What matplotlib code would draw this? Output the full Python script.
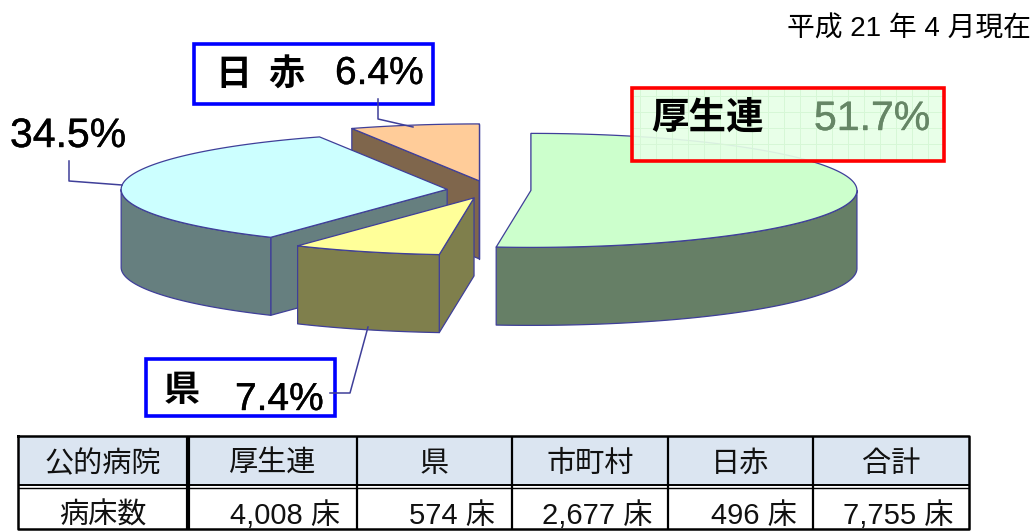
import matplotlib
matplotlib.use("Agg")
import matplotlib.pyplot as plt
import matplotlib.patheffects as pe
import numpy as np
from matplotlib.patches import Polygon, Rectangle

plt.rcParams["font.family"] = ["Liberation Sans", "Noto Sans CJK JP"]

# clockwise from 12 o'clock
slice_names = ["厚生連", "県", "市町村", "日赤"]
shares = [51.7, 7.4, 34.5, 6.4]
explode = [41, 48, 43, 53]
top_colors = ["#CCFFCC", "#FFFF99", "#CCFFFF", "#FFCC99"]
side_colors = ["#667F66", "#7F7F4C", "#667F7F", "#7F664C"]
draw_order = [3, 2, 1, 0]

table_header = ["公的病院", "厚生連", "県", "市町村", "日赤", "合計"]
table_row = ["病床数", "4,008 床", "574 床", "2,677 床", "496 床", "7,755 床"]
date_text = "平成 21 年 4 月現在"

# pie geometry in image pixels
CX, CY = 490, 190
RX, RY = 326, 57
DEPTH = 78
EDGE = "#3F3F99"

col_edges = [18, 188, 357, 512, 668, 813, 969]
row_right = [340, 495, 652, 797, 953]


def rim(cx, cy, a0, a1):
    theta = np.radians(np.linspace(a0, a1, 200))
    return np.column_stack([cx + RX * np.sin(theta), cy - RY * np.cos(theta)])


def faces_viewer(normal_deg):
    return np.cos(np.radians(normal_deg)) < 1e-6


def draw_slice(ax, a0, a1, boom, top, side):
    mid = np.radians((a0 + a1) / 2)
    cx = CX + boom * np.sin(mid)
    cy = CY - boom * np.cos(mid) * RY / RX
    apex = np.array([[cx, cy]])
    arc = rim(cx, cy, a0, a1)
    down = np.array([0, DEPTH])
    style = dict(edgecolor=EDGE, linewidth=0.9, joinstyle="round")

    # only the cut faces turned to the viewer, then outer wall, then the top
    if faces_viewer(a0 - 90):
        face = np.vstack([apex, arc[:1], arc[:1] + down, apex + down])
        ax.add_patch(Polygon(face, facecolor=side, **style))
    if faces_viewer(a1 + 90):
        face = np.vstack([apex, arc[-1:], arc[-1:] + down, apex + down])
        ax.add_patch(Polygon(face, facecolor=side, **style))
    lo, hi = max(a0, 90), min(a1, 270)
    if lo < hi:
        wall = rim(cx, cy, lo, hi)
        ax.add_patch(Polygon(np.vstack([wall, wall[::-1] + down]), facecolor=side, **style))
    ax.add_patch(Polygon(np.vstack([apex, arc]), facecolor=top, **style))


def label_box(ax, x0, y0, x1, y1, color, face="white", zorder=5):
    ax.add_patch(Rectangle((x0, y0), x1 - x0, y1 - y0, facecolor=face, edgecolor=color,
                           linewidth=2.6, zorder=zorder))


def number_label(ax, x, y, text, size, color="black"):
    t = ax.text(x, y, text, fontsize=size, color=color, ha="left", va="center", zorder=7)
    t.set_path_effects([pe.withStroke(linewidth=0.3, foreground=color)])


fig = plt.figure(figsize=(10.35, 5.31), dpi=100)
ax = fig.add_axes([0, 0, 1, 1])
ax.set_xlim(0, 1035)
ax.set_ylim(531, 0)
ax.axis("off")

angles = np.concatenate([[0], np.cumsum(shares) * 3.6])
for i in draw_order:
    draw_slice(ax, angles[i], angles[i + 1], explode[i], top_colors[i], side_colors[i])

# leader lines
ax.plot([69, 69, 122], [161, 181, 185], color=EDGE, lw=1.1, zorder=6)
ax.plot([378, 378, 413], [99, 119, 127], color=EDGE, lw=1.1, zorder=6)
ax.plot([330, 350, 368], [393, 393, 327], color=EDGE, lw=1.1, zorder=6)

# red label has a translucent grid fill, the pie shows through it
label_box(ax, 632, 88, 944, 161, "none", face=(0.90, 1.0, 0.90, 0.92))
for x in np.arange(640, 944, 16):
    ax.plot([x, x], [88, 161], color="#D6F7D6", lw=0.7, zorder=5)
for y in np.arange(96, 161, 16):
    ax.plot([632, 944], [y, y], color="#D6F7D6", lw=0.7, zorder=5)
label_box(ax, 632, 88, 944, 161, "#FF0000", face="none", zorder=6)
label_box(ax, 194, 44, 433, 104, "#0000FF")
label_box(ax, 146, 359, 335, 416, "#0000FF")

ax.text(651, 119, "厚生連", fontsize=27, fontweight="bold", ha="left", va="center", zorder=7)
number_label(ax, 814, 119, "51.7%", 29.5, color="#668666")
ax.text(215, 76, "日", fontsize=26, fontweight="bold", ha="left", va="center", zorder=7)
ax.text(268, 76, "赤", fontsize=26, fontweight="bold", ha="left", va="center", zorder=7)
number_label(ax, 335, 74, "6.4%", 28)
ax.text(164, 392, "県", fontsize=26, fontweight="bold", ha="left", va="center", zorder=7)
number_label(ax, 235, 400, "7.4%", 28)
number_label(ax, 10, 136, "34.5%", 29.5)

ax.text(1031, 30, date_text, fontsize=20, ha="right", va="center")

# table
ax.add_patch(Rectangle((18, 436), 951, 48, facecolor="#DBE5F1", edgecolor="none"))
ax.plot([18, 969], [484.5, 484.5], color="black", lw=1.4, solid_capstyle="butt")
ax.plot([18, 969], [487.5, 487.5], color="black", lw=1.0, solid_capstyle="butt")
for k, x in enumerate(col_edges[1:-1]):
    ax.plot([x, x], [436, 529], color="black", lw=3.0 if k == 0 else 1.6, solid_capstyle="butt")
ax.plot([18, 969, 969, 18, 18], [436, 436, 529, 529, 436], color="black", lw=1.8)
for k, name in enumerate(table_header):
    mid = (col_edges[k] + col_edges[k + 1]) / 2
    ax.text(mid, 464, name, fontsize=21, ha="center", va="center", color="#111111")
ax.text((col_edges[0] + col_edges[1]) / 2, 516, table_row[0], fontsize=21, ha="center", va="center", color="#111111")
for x, value in zip(row_right, table_row[1:]):
    ax.text(x, 516, value, fontsize=21, ha="right", va="center", color="#111111")

fig.savefig("out.png", dpi=100)
plt.close(fig)
